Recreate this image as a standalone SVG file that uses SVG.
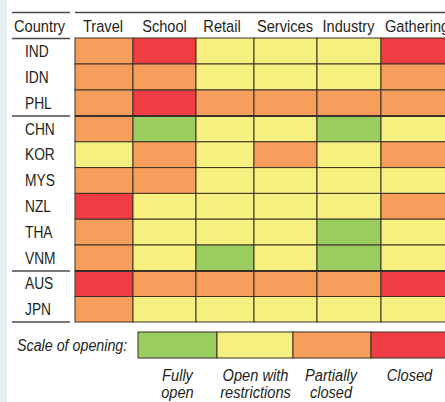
<svg xmlns="http://www.w3.org/2000/svg" width="445" height="402" viewBox="0 0 445 402">
<style>
.t{font-family:"Liberation Sans",Arial,sans-serif;font-size:17px;fill:#231f20}
.h{text-anchor:middle}
.i{font-style:italic}
.c{text-anchor:middle;font-style:italic}
.G{fill:#9acd5f}.Y{fill:#f5f07f}.O{fill:#f89e5d}.R{fill:#ee3e43}
.cell{stroke:#3b3124;stroke-width:1}
.rule{stroke:#4a4a4a;stroke-width:1.3}
</style>
<rect x="0" y="0" width="445" height="402" fill="#ffffff"/>
<rect x="0" y="0" width="7" height="402" fill="#e5eef1"/>
<g id="header">
<line class="rule" x1="12" y1="12.5" x2="70" y2="12.5"/>
<line class="rule" x1="75" y1="12.5" x2="445" y2="12.5"/>
<line class="rule" x1="12" y1="38.5" x2="70" y2="38.5"/>
<text class="t" transform="translate(14,32) scale(0.86,1)">Country</text>
<text class="t h" transform="translate(103,32) scale(0.86,1)">Travel</text>
<text class="t h" transform="translate(164.5,32) scale(0.86,1)">School</text>
<text class="t h" transform="translate(222,32) scale(0.86,1)">Retail</text>
<text class="t h" transform="translate(285,32) scale(0.86,1)">Services</text>
<text class="t h" transform="translate(348.5,32) scale(0.86,1)">Industry</text>
<text class="t" transform="translate(385,32) scale(0.86,1)">Gathering</text>
</g>
<g id="row-labels">
<line class="rule" x1="12" y1="116" x2="70" y2="116"/>
<line class="rule" x1="12" y1="271" x2="70" y2="271"/>
<line class="rule" x1="12" y1="322" x2="70" y2="322"/>
<text class="t" transform="translate(25,57) scale(0.81,1)">IND</text>
<text class="t" transform="translate(25,83) scale(0.81,1)">IDN</text>
<text class="t" transform="translate(25,109) scale(0.81,1)">PHL</text>
<text class="t" transform="translate(25,135) scale(0.81,1)">CHN</text>
<text class="t" transform="translate(25,160) scale(0.81,1)">KOR</text>
<text class="t" transform="translate(25,186) scale(0.81,1)">MYS</text>
<text class="t" transform="translate(25,212) scale(0.81,1)">NZL</text>
<text class="t" transform="translate(25,238) scale(0.81,1)">THA</text>
<text class="t" transform="translate(25,264) scale(0.81,1)">VNM</text>
<text class="t" transform="translate(25,289) scale(0.81,1)">AUS</text>
<text class="t" transform="translate(25,315) scale(0.81,1)">JPN</text>
</g>
<g id="grid" class="cell">
<g id="IND"><rect class="O" x="75" y="38" width="58" height="26"/><rect class="R" x="133" y="38" width="63" height="26"/><rect class="Y" x="196" y="38" width="58" height="26"/><rect class="Y" x="254" y="38" width="63" height="26"/><rect class="Y" x="317" y="38" width="64" height="26"/><rect class="R" x="381" y="38" width="70" height="26"/></g>
<g id="IDN"><rect class="O" x="75" y="64" width="58" height="26"/><rect class="O" x="133" y="64" width="63" height="26"/><rect class="Y" x="196" y="64" width="58" height="26"/><rect class="Y" x="254" y="64" width="63" height="26"/><rect class="Y" x="317" y="64" width="64" height="26"/><rect class="O" x="381" y="64" width="70" height="26"/></g>
<g id="PHL"><rect class="O" x="75" y="90" width="58" height="26"/><rect class="R" x="133" y="90" width="63" height="26"/><rect class="O" x="196" y="90" width="58" height="26"/><rect class="O" x="254" y="90" width="63" height="26"/><rect class="O" x="317" y="90" width="64" height="26"/><rect class="O" x="381" y="90" width="70" height="26"/></g>
<g id="CHN"><rect class="O" x="75" y="116" width="58" height="25.8"/><rect class="G" x="133" y="116" width="63" height="25.8"/><rect class="Y" x="196" y="116" width="58" height="25.8"/><rect class="Y" x="254" y="116" width="63" height="25.8"/><rect class="G" x="317" y="116" width="64" height="25.8"/><rect class="Y" x="381" y="116" width="70" height="25.8"/></g>
<g id="KOR"><rect class="Y" x="75" y="141.8" width="58" height="25.8"/><rect class="O" x="133" y="141.8" width="63" height="25.8"/><rect class="Y" x="196" y="141.8" width="58" height="25.8"/><rect class="O" x="254" y="141.8" width="63" height="25.8"/><rect class="Y" x="317" y="141.8" width="64" height="25.8"/><rect class="O" x="381" y="141.8" width="70" height="25.8"/></g>
<g id="MYS"><rect class="O" x="75" y="167.6" width="58" height="25.8"/><rect class="O" x="133" y="167.6" width="63" height="25.8"/><rect class="Y" x="196" y="167.6" width="58" height="25.8"/><rect class="Y" x="254" y="167.6" width="63" height="25.8"/><rect class="Y" x="317" y="167.6" width="64" height="25.8"/><rect class="Y" x="381" y="167.6" width="70" height="25.8"/></g>
<g id="NZL"><rect class="R" x="75" y="193.4" width="58" height="25.8"/><rect class="Y" x="133" y="193.4" width="63" height="25.8"/><rect class="Y" x="196" y="193.4" width="58" height="25.8"/><rect class="Y" x="254" y="193.4" width="63" height="25.8"/><rect class="Y" x="317" y="193.4" width="64" height="25.8"/><rect class="O" x="381" y="193.4" width="70" height="25.8"/></g>
<g id="THA"><rect class="O" x="75" y="219.2" width="58" height="25.8"/><rect class="Y" x="133" y="219.2" width="63" height="25.8"/><rect class="Y" x="196" y="219.2" width="58" height="25.8"/><rect class="Y" x="254" y="219.2" width="63" height="25.8"/><rect class="G" x="317" y="219.2" width="64" height="25.8"/><rect class="Y" x="381" y="219.2" width="70" height="25.8"/></g>
<g id="VNM"><rect class="O" x="75" y="245" width="58" height="26"/><rect class="Y" x="133" y="245" width="63" height="26"/><rect class="G" x="196" y="245" width="58" height="26"/><rect class="Y" x="254" y="245" width="63" height="26"/><rect class="G" x="317" y="245" width="64" height="26"/><rect class="Y" x="381" y="245" width="70" height="26"/></g>
<g id="AUS"><rect class="R" x="75" y="271" width="58" height="25.5"/><rect class="O" x="133" y="271" width="63" height="25.5"/><rect class="O" x="196" y="271" width="58" height="25.5"/><rect class="O" x="254" y="271" width="63" height="25.5"/><rect class="O" x="317" y="271" width="64" height="25.5"/><rect class="R" x="381" y="271" width="70" height="25.5"/></g>
<g id="JPN"><rect class="O" x="75" y="296.5" width="58" height="25.5"/><rect class="Y" x="133" y="296.5" width="63" height="25.5"/><rect class="Y" x="196" y="296.5" width="58" height="25.5"/><rect class="Y" x="254" y="296.5" width="63" height="25.5"/><rect class="Y" x="317" y="296.5" width="64" height="25.5"/><rect class="Y" x="381" y="296.5" width="70" height="25.5"/></g>
<line x1="75" y1="116" x2="445" y2="116" stroke-width="2.2"/>
<line x1="75" y1="271" x2="445" y2="271" stroke-width="2.2"/>
</g>
<g id="legend">
<text class="t i" transform="translate(17,351) scale(0.84,1)">Scale of opening:</text>
<g class="cell">
<rect class="G" x="138" y="332" width="79" height="26"/>
<rect class="Y" x="217" y="332" width="76" height="26"/>
<rect class="O" x="293" y="332" width="78" height="26"/>
<rect class="R" x="371" y="332" width="80" height="26"/>
</g>
<text class="t c" transform="translate(177.5,381) scale(0.86,1)">Fully</text>
<text class="t c" transform="translate(177.5,398) scale(0.86,1)">open</text>
<text class="t c" transform="translate(255.5,381) scale(0.86,1)">Open with</text>
<text class="t c" transform="translate(255.5,398) scale(0.86,1)">restrictions</text>
<text class="t c" transform="translate(331,381) scale(0.86,1)">Partially</text>
<text class="t c" transform="translate(331,398) scale(0.86,1)">closed</text>
<text class="t c" transform="translate(409.5,381) scale(0.86,1)">Closed</text>
</g>
</svg>
